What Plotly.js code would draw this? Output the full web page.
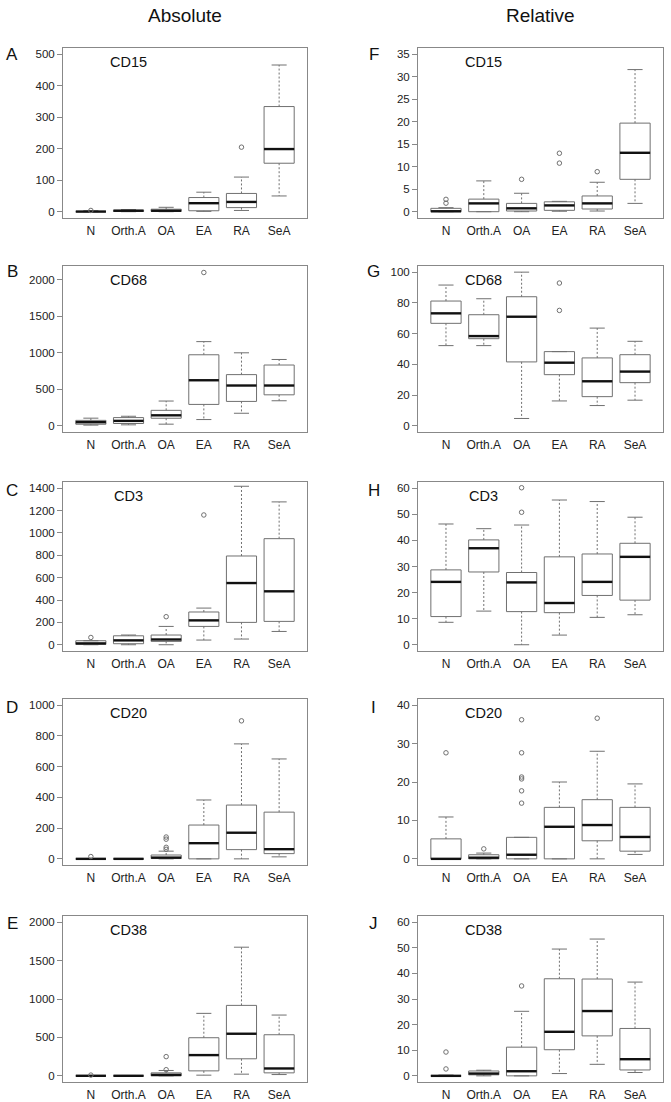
<!DOCTYPE html>
<html><head><meta charset="utf-8">
<script src="https://cdn.plot.ly/plotly-3.0.1.min.js"></script>
<style>html,body{margin:0;padding:0;background:#fff}#chart{width:671px;height:1102px}</style>
</head><body><div id="chart"></div>
<script>
const categories = ['N', 'Orth.A', 'OA', 'EA', 'RA', 'SeA'];
const columnTitles = ['Absolute', 'Relative'];

// A: CD15 absolute
const cd15AbsLow = [0, 0, 0, 1, 4, 50];
const cd15AbsQ1  = [0, 1, 1, 3, 13, 154];
const cd15AbsMed = [0.5, 3, 3, 27, 31, 199];
const cd15AbsQ3  = [2, 5, 8, 45, 58, 334];
const cd15AbsHigh= [3, 7, 14, 62, 110, 466];
const cd15AbsOut = [[4], [], [], [], [205], []];

// F: CD15 relative
const cd15RelLow = [0, 0, 0, 0.1, 0.15, 1.85];
const cd15RelQ1  = [0, 0, 0.15, 0.3, 0.6, 7.2];
const cd15RelMed = [0.1, 1.85, 0.75, 1.4, 1.85, 13.1];
const cd15RelQ3  = [0.75, 2.8, 1.85, 2.2, 3.5, 19.7];
const cd15RelHigh= [0.9, 6.85, 4.1, 2.3, 6.55, 31.6];
const cd15RelOut = [[1.9, 2.75], [], [7.2], [10.8, 13], [8.9], []];

// B: CD68 absolute
const cd68AbsLow = [10, 14, 23, 86, 172, 343];
const cd68AbsQ1  = [22, 32, 104, 293, 334, 424];
const cd68AbsMed = [50, 68, 144, 623, 551, 551];
const cd68AbsQ3  = [75, 113, 212, 971, 700, 831];
const cd68AbsHigh= [105, 131, 339, 1151, 998, 907];
const cd68AbsOut = [[], [], [], [2095], [], []];

// G: CD68 relative
const cd68RelLow = [52.2, 52.2, 4.8, 16.2, 13.2, 16.7];
const cd68RelQ1  = [66.7, 56.7, 41.6, 33.3, 19.0, 28.1];
const cd68RelMed = [73.2, 58.4, 71, 41.1, 29, 35.3];
const cd68RelQ3  = [81.2, 72.3, 84, 48.3, 44.2, 46.3];
const cd68RelHigh= [91.6, 82.7, 100, 48.3, 63.6, 55];
const cd68RelOut = [[], [], [], [75.1, 92.9], [], []];

// C: CD3 absolute
const cd3AbsLow = [0, 0, 0, 42, 51, 119];
const cd3AbsQ1  = [3, 9, 30, 164, 200, 209];
const cd3AbsMed = [12, 39, 47, 218, 552, 478];
const cd3AbsQ3  = [36, 80, 87, 293, 794, 949];
const cd3AbsHigh= [36, 87, 164, 328, 1418, 1278];
const cd3AbsOut = [[65], [], [251], [1161], [], []];

// H: CD3 relative
const cd3RelLow = [8.6, 12.9, 0, 3.7, 10.5, 11.5];
const cd3RelQ1  = [10.8, 27.9, 12.7, 12.3, 18.9, 17.1];
const cd3RelMed = [24.1, 37, 23.9, 16, 24.1, 33.7];
const cd3RelQ3  = [28.7, 40.2, 27.7, 33.7, 34.8, 38.9];
const cd3RelHigh= [46.3, 44.5, 45.9, 55.5, 54.9, 48.9];
const cd3RelOut = [[], [], [50.8, 60.2], [], [], []];

// D: CD20 absolute
const cd20AbsLow = [0, 0, 0, 0, 0, 13];
const cd20AbsQ1  = [0, 0, 2, 0, 60, 34];
const cd20AbsMed = [0, 0, 8, 102, 170, 63];
const cd20AbsQ3  = [0, 0, 25, 220, 350, 304];
const cd20AbsHigh= [0, 0, 50, 383, 748, 650];
const cd20AbsOut = [[15], [], [62, 75, 128, 142], [], [898], []];

// I: CD20 relative
const cd20RelLow = [0, 0, 0, 0, 0, 1.15];
const cd20RelQ1  = [0, 0, 0, 0, 4.7, 2.0];
const cd20RelMed = [0, 0.3, 1.07, 8.35, 8.8, 5.7];
const cd20RelQ3  = [5.2, 1.07, 5.6, 13.4, 15.4, 13.4];
const cd20RelHigh= [10.9, 1.5, 5.6, 20, 28, 19.5];
const cd20RelOut = [[27.6], [2.6], [14.5, 17.7, 20.8, 21.3, 27.6, 36.2], [], [36.6], []];

// E: CD38 absolute
const cd38AbsLow = [0, 0, 0, 9, 22, 17];
const cd38AbsQ1  = [0, 0, 0, 65, 222, 39];
const cd38AbsMed = [1, 1, 13, 270, 548, 96];
const cd38AbsQ3  = [2, 3, 39, 496, 917, 535];
const cd38AbsHigh= [4, 5, 70, 813, 1674, 791];
const cd38AbsOut = [[10], [], [80, 250], [], [], []];

// J: CD38 relative
const cd38RelLow = [0, 0, 0, 0.9, 4.5, 1.3];
const cd38RelQ1  = [0, 0.4, 0, 10.2, 15.6, 2.3];
const cd38RelMed = [0, 0.9, 1.8, 17.2, 25.3, 6.5];
const cd38RelQ3  = [0.2, 1.9, 11.2, 37.9, 37.8, 18.5];
const cd38RelHigh= [0.3, 2.2, 25.2, 49.5, 53.4, 36.6];
const cd38RelOut = [[2.7, 9.3], [], [35.1], [], [], []];

const panels = [
  {letter:'A', marker:'CD15', col:0, row:0, lo:cd15AbsLow, q1:cd15AbsQ1, med:cd15AbsMed, q3:cd15AbsQ3, hi:cd15AbsHigh, out:cd15AbsOut, yr:[-20,520], dt:100},
  {letter:'B', marker:'CD68', col:0, row:1, lo:cd68AbsLow, q1:cd68AbsQ1, med:cd68AbsMed, q3:cd68AbsQ3, hi:cd68AbsHigh, out:cd68AbsOut, yr:[-84,2184], dt:500},
  {letter:'C', marker:'CD3',  col:0, row:2, lo:cd3AbsLow,  q1:cd3AbsQ1,  med:cd3AbsMed,  q3:cd3AbsQ3,  hi:cd3AbsHigh,  out:cd3AbsOut,  yr:[-56,1456], dt:200},
  {letter:'D', marker:'CD20', col:0, row:3, lo:cd20AbsLow, q1:cd20AbsQ1, med:cd20AbsMed, q3:cd20AbsQ3, hi:cd20AbsHigh, out:cd20AbsOut, yr:[-40,1040], dt:200},
  {letter:'E', marker:'CD38', col:0, row:4, lo:cd38AbsLow, q1:cd38AbsQ1, med:cd38AbsMed, q3:cd38AbsQ3, hi:cd38AbsHigh, out:cd38AbsOut, yr:[-80,2080], dt:500},
  {letter:'F', marker:'CD15', col:1, row:0, lo:cd15RelLow, q1:cd15RelQ1, med:cd15RelMed, q3:cd15RelQ3, hi:cd15RelHigh, out:cd15RelOut, yr:[-1.4,36.4], dt:5},
  {letter:'G', marker:'CD68', col:1, row:1, lo:cd68RelLow, q1:cd68RelQ1, med:cd68RelMed, q3:cd68RelQ3, hi:cd68RelHigh, out:cd68RelOut, yr:[-4,104], dt:20},
  {letter:'H', marker:'CD3',  col:1, row:2, lo:cd3RelLow,  q1:cd3RelQ1,  med:cd3RelMed,  q3:cd3RelQ3,  hi:cd3RelHigh,  out:cd3RelOut,  yr:[-2.4,62.4], dt:10},
  {letter:'I', marker:'CD20', col:1, row:3, lo:cd20RelLow, q1:cd20RelQ1, med:cd20RelMed, q3:cd20RelQ3, hi:cd20RelHigh, out:cd20RelOut, yr:[-1.6,41.6], dt:10},
  {letter:'J', marker:'CD38', col:1, row:4, lo:cd38RelLow, q1:cd38RelQ1, med:cd38RelMed, q3:cd38RelQ3, hi:cd38RelHigh, out:cd38RelOut, yr:[-2.4,62.4], dt:10}
];

// ---- layout geometry (pixels) ----
const W = 671, H = 1102;
const colX = [[63, 307], [418, 663]];
const rowY = [[48, 218], [266, 432], [482, 651], [699, 865], [916, 1082]];
const letterX = [12, 374];
const letterY = [55, 272, 490, 707, 923];

const FONT = '"Liberation Sans", Arial, sans-serif';
const BOXC = '#707070';
const traces = [];
const layout = {
  width: W, height: H, margin: {l:0, r:0, t:0, b:0},
  paper_bgcolor: '#fff', plot_bgcolor: '#fff', showlegend: false,
  font: {family: FONT, color: '#222'},
  annotations: []
};

panels.forEach((p, k) => {
  const n = k === 0 ? '' : String(k + 1);
  const xa = 'x' + n, ya = 'y' + n;
  const HW = 0.4, CW = 0.2;
  const bx=[],by=[],mx=[],my=[],wx=[],wy=[],cx=[],cy=[],ox=[],oy=[];
  categories.forEach((c, i) => {
    const x = i + 1;
    bx.push(x-HW, x+HW, x+HW, x-HW, x-HW, null);
    by.push(p.q1[i], p.q1[i], p.q3[i], p.q3[i], p.q1[i], null);
    mx.push(x-HW, x+HW, null); my.push(p.med[i], p.med[i], null);
    wx.push(x, x, null, x, x, null);
    wy.push(p.q3[i], p.hi[i], null, p.q1[i], p.lo[i], null);
    cx.push(x-CW, x+CW, null, x-CW, x+CW, null);
    cy.push(p.hi[i], p.hi[i], null, p.lo[i], p.lo[i], null);
    p.out[i].forEach(v => { ox.push(x); oy.push(v); });
  });
  const base = {xaxis: xa, yaxis: ya, hoverinfo: 'skip', cliponaxis: false};
  traces.push(Object.assign({type:'scatter', mode:'lines', x:wx, y:wy, line:{color:BOXC, width:1, dash:'2px,2px'}}, base));
  traces.push(Object.assign({type:'scatter', mode:'lines', x:cx, y:cy, line:{color:BOXC, width:1}}, base));
  traces.push(Object.assign({type:'scatter', mode:'lines', x:bx, y:by, line:{color:BOXC, width:1}}, base));
  traces.push(Object.assign({type:'scatter', mode:'lines', x:mx, y:my, line:{color:'#111', width:2.4}}, base));
  traces.push(Object.assign({type:'scatter', mode:'markers', x:ox, y:oy,
    marker:{symbol:'circle-open', size:4.5, color:BOXC, line:{width:1, color:BOXC}}}, base));

  const cxp = colX[p.col], ryp = rowY[p.row];
  layout['xaxis' + n] = {
    domain: [cxp[0]/W, cxp[1]/W], anchor: ya, range: [0.26, 6.74],
    tickmode: 'array', tickvals: categories.map((c, i) => i + 1), ticktext: categories,
    showline: true, mirror: true, linecolor: '#888', linewidth: 1,
    showgrid: false, zeroline: false, ticks: '', ticklabelstandoff: 2,
    tickfont: {family: FONT, size: 12, color: '#222'}, fixedrange: true
  };
  layout['yaxis' + n] = {
    domain: [1 - ryp[1]/H, 1 - ryp[0]/H], anchor: xa, range: p.yr,
    tick0: 0, dtick: p.dt, showline: true, mirror: true, linecolor: '#888', linewidth: 1,
    showgrid: false, zeroline: false, ticks: 'outside', ticklen: 5, tickcolor: '#888',
    tickfont: {family: FONT, size: 11.5, color: '#222'}, fixedrange: true
  };
  layout.annotations.push({
    text: p.marker, xref: xa, yref: ya + ' domain', x: 2, y: 1 - 14/170,
    xanchor: 'center', yanchor: 'middle', showarrow: false,
    font: {family: FONT, size: 14.5, color: '#111'}
  });
  layout.annotations.push({
    text: p.letter, xref: 'paper', yref: 'paper', x: letterX[p.col]/W, y: 1 - letterY[p.row]/H,
    xanchor: 'center', yanchor: 'middle', showarrow: false,
    font: {family: FONT, size: 17, color: '#111'}
  });
});

[[185, columnTitles[0]], [540, columnTitles[1]]].forEach(([px, t]) => {
  layout.annotations.push({
    text: t, xref: 'paper', yref: 'paper', x: px/W, y: 1 - 16/H,
    xanchor: 'center', yanchor: 'middle', showarrow: false,
    font: {family: FONT, size: 19, color: '#111'}
  });
});

Plotly.newPlot('chart', traces, layout, {staticPlot: true, displayModeBar: false});
</script>
</body></html>
